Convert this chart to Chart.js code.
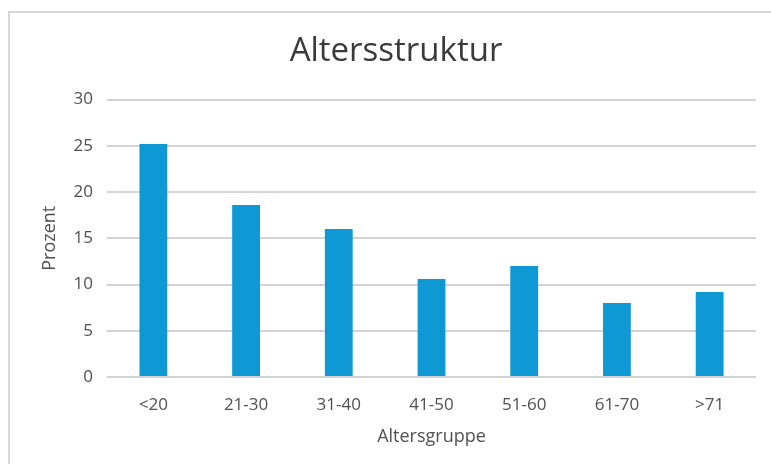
<!DOCTYPE html>
<html>
<head>
<meta charset="utf-8">
<script src="https://cdn.jsdelivr.net/npm/chart.js@4/dist/chart.umd.min.js"></script>
<style>
  html, body { margin: 0; padding: 0; background: #ffffff; overflow: hidden; }
  #frame { position: absolute; left: 8px; top: 11px; width: 800px; height: 470px;
           border-left: 2px solid #d6d6d6; border-top: 2px solid #d6d6d6; background: #fff; }
  #wrap { position: absolute; left: 0; top: 0; width: 761px; height: 451px; }
</style>
</head>
<body>
<div id="frame"><div id="wrap"><canvas id="c"></canvas></div></div>
<script>
const categories = ["<20", "21-30", "31-40", "41-50", "51-60", "61-70", ">71"];
const values = [25.2, 18.6, 16.0, 10.6, 12.0, 8.0, 9.2];
const yTicks = [0, 5, 10, 15, 20, 25, 30];

const textColor = "#505050";
const font = "'Open Sans', sans-serif";

new Chart(document.getElementById("c"), {
  type: "bar",
  data: {
    labels: categories,
    datasets: [{
      label: "Prozent",
      data: values,
      backgroundColor: "#0f99d4",
      borderWidth: 0,
      categoryPercentage: 1.0,
      barPercentage: 0.30
    }]
  },
  options: {
    responsive: true,
    maintainAspectRatio: false,
    animation: false,
    layout: { padding: { left: 26, right: 15, top: 0, bottom: 16 } },
    plugins: {
      legend: { display: false },
      tooltip: { enabled: false },
      title: {
        display: true,
        text: "Altersstruktur",
        color: "#3a3a3a",
        font: { family: font, size: 33, weight: "normal" },
        padding: { top: 19, bottom: 28 }
      }
    },
    scales: {
      x: {
        afterFit: (axis) => { axis.height = 71; },
        grid: { display: false, drawTicks: false },
        border: { display: false },
        ticks: { color: textColor, font: { family: font, size: 17 }, padding: 18, maxRotation: 0 },
        title: { display: true, text: "Altersgruppe", color: textColor,
                 font: { family: font, size: 18 }, padding: { top: 8, bottom: 0 } }
      },
      y: {
        min: 0, max: 30,
        afterBuildTicks: (axis) => { axis.ticks = yTicks.map(v => ({ value: v })); },
        afterFit: (axis) => { axis.width = 71; },
        grid: { color: "#d4d4d4", lineWidth: 2, drawTicks: false },
        border: { display: false },
        ticks: { color: textColor, font: { family: font, size: 17 }, padding: 14 },
        title: { display: true, text: "Prozent", color: textColor,
                 font: { family: font, size: 18 }, padding: { top: 3, bottom: 0 } }
      }
    }
  }
});
</script>
</body>
</html>
